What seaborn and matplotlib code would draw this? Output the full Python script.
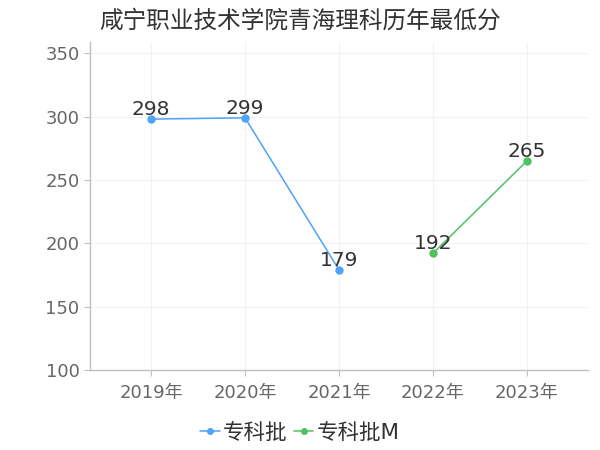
import numpy as np
import pandas as pd
import matplotlib
matplotlib.use('Agg')
import matplotlib.pyplot as plt
import seaborn as sns

# data
years = ['2019年', '2020年', '2021年', '2022年', '2023年']
series_names = ['专科批', '专科批M']
s1_years = ['2019年', '2020年', '2021年']
s1_scores = [298, 299, 179]
s2_years = ['2022年', '2023年']
s2_scores = [192, 265]
title = '咸宁职业技术学院青海理科历年最低分'
colors = {'专科批': '#4da3f7', '专科批M': '#4fc161'}

sns.set_theme(style='white')
plt.rcParams['font.family'] = ['DejaVu Sans', 'Noto Sans CJK SC']

df = pd.DataFrame({
    'year': s1_years + s2_years,
    'score': s1_scores + s2_scores,
    'batch': [series_names[0]] * len(s1_years) + [series_names[1]] * len(s2_years),
})
df['pos'] = df['year'].map({y: i for i, y in enumerate(years)})

fig = plt.figure(figsize=(6, 4.5), dpi=100)
ax = fig.add_axes([0.15, 0.178, 0.83, 0.729])

sns.lineplot(data=df, x='pos', y='score', hue='batch', palette=colors,
             marker='o', markersize=6, markeredgewidth=0, linewidth=1.1,
             ax=ax, legend=False)

for _, r in df.iterrows():
    ax.annotate(str(r['score']), (r['pos'], r['score']), xytext=(0, 0),
                textcoords='offset points', ha='center', va='bottom',
                fontsize=14.5, color='#333333')

ax.set_xlim(-0.65, len(years) - 1 + 0.65)
ax.set_ylim(100, 359)
ax.set_xticks(range(len(years)))
ax.set_xticklabels(years)
ax.set_yticks([100, 150, 200, 250, 300, 350])
ax.set_xlabel(''); ax.set_ylabel('')
ax.grid(True, color='#f2f2f2', linewidth=0.8)
for side in ['top', 'right']:
    ax.spines[side].set_visible(False)
for side in ['left', 'bottom']:
    ax.spines[side].set_color('#c0c0c0')
    ax.spines[side].set_linewidth(1.0)
ax.tick_params(axis='both', colors='#c0c0c0', labelcolor='#666666',
               labelsize=13, length=4, width=0.8, direction='out',
               bottom=True, left=True)
ax.tick_params(axis='x', pad=6)

fig.suptitle(title, x=0.5, y=0.98, fontsize=17, color='#333333')

handles = [plt.Line2D([], [], color=colors[n], marker='o', markersize=5,
                      markeredgewidth=0, linewidth=1.1) for n in series_names]
fig.legend(handles, series_names, loc='lower center', bbox_to_anchor=(0.5, -0.027),
           ncol=2, frameon=False, fontsize=15.5, handlelength=0.9,
           handletextpad=0.15, columnspacing=0.3, labelcolor='#333333')

fig.savefig('out.png', dpi=100)
